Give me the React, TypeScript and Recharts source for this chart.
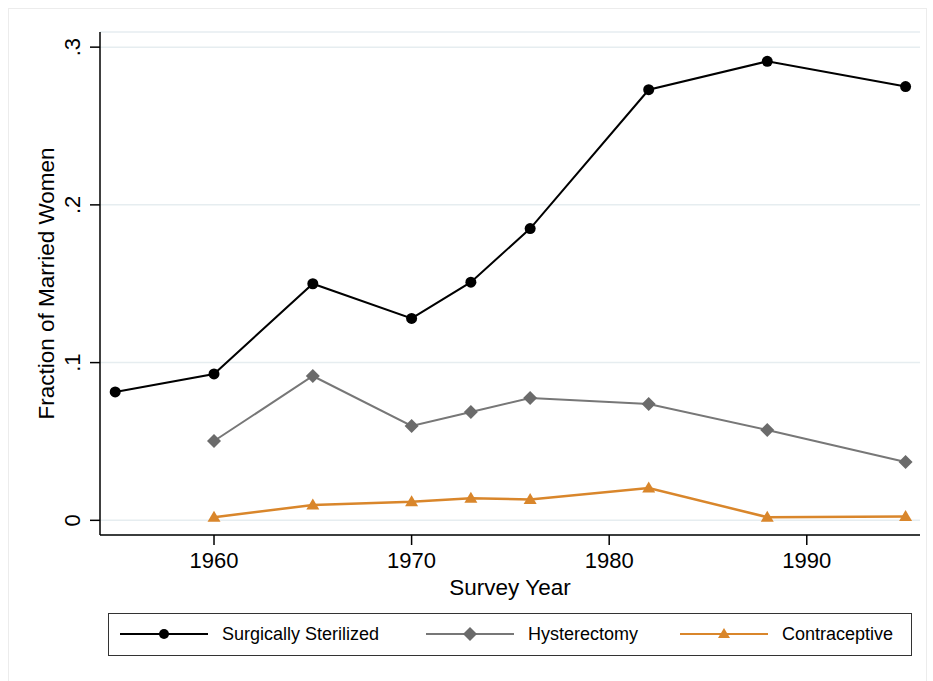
import React from "react";
import {
  LineChart,
  Line,
  XAxis,
  YAxis,
  CartesianGrid,
} from "recharts";

const years = [1955, 1960, 1965, 1970, 1973, 1976, 1982, 1988, 1995];
const sterilized = [0.0814, 0.0928, 0.150, 0.128, 0.151, 0.185, 0.273, 0.291, 0.275];
const hysterectomy = [null, 0.0503, 0.0915, 0.0598, 0.0687, 0.0776, 0.0738, 0.0573, 0.037];
const contraceptive = [null, 0.002, 0.0097, 0.0118, 0.014, 0.0132, 0.0205, 0.002, 0.0025];

const xTicks = [1960, 1970, 1980, 1990];
const yTicks = [0, 0.1, 0.2, 0.3];
const yTickLabels = ["0", ".1", ".2", ".3"];

const data = years.map((year, i) => ({
  year,
  sterilized: sterilized[i],
  hysterectomy: hysterectomy[i],
  contraceptive: contraceptive[i],
}));

const FONT = "'Liberation Sans', Arial, Helvetica, sans-serif";
const BLACK = "#000000";
const GRAY_LINE = "#777777";
const GRAY_MARK = "#6b6b6b";
const ORANGE = "#d9862b";

const CircleDot = (props: any) => {
  const { cx, cy, value } = props;
  if (value == null || cx == null || cy == null) return null;
  return <circle cx={cx} cy={cy} r={5.5} fill={BLACK} />;
};

const DiamondDot = (props: any) => {
  const { cx, cy, value } = props;
  if (value == null || cx == null || cy == null) return null;
  const s = 7;
  return (
    <path
      d={`M${cx},${cy - s}L${cx + s},${cy}L${cx},${cy + s}L${cx - s},${cy}Z`}
      fill={GRAY_MARK}
    />
  );
};

const TriangleDot = (props: any) => {
  const { cx, cy, value } = props;
  if (value == null || cx == null || cy == null) return null;
  return (
    <path
      d={`M${cx},${cy - 6.5}L${cx + 6.5},${cy + 4.5}L${cx - 6.5},${cy + 4.5}Z`}
      fill={ORANGE}
    />
  );
};

const XTick = (props: any) => {
  const { x, y, payload } = props;
  return (
    <text
      x={x}
      y={y + 13}
      textAnchor="middle"
      dominantBaseline="central"
      fontFamily={FONT}
      fontSize={22}
      fill="#000"
    >
      {payload.value}
    </text>
  );
};

const YTick = (props: any) => {
  const { x, y, payload } = props;
  const idx = yTicks.indexOf(payload.value);
  const bx = x - 8;
  return (
    <text
      x={bx}
      y={y}
      transform={`rotate(-90, ${bx}, ${y})`}
      textAnchor="middle"
      fontFamily={FONT}
      fontSize={22}
      fill="#000"
    >
      {idx >= 0 ? yTickLabels[idx] : payload.value}
    </text>
  );
};

const legendItems = [
  { label: "Surgically Sterilized", color: BLACK, marker: "circle", left: 11 },
  { label: "Hysterectomy", color: GRAY_LINE, marker: "diamond", left: 317 },
  { label: "Contraceptive", color: ORANGE, marker: "triangle", left: 571 },
];

const LegendBox = () => (
  <div
    style={{
      position: "absolute",
      left: 108,
      top: 613,
      width: 804,
      height: 43,
      border: "1.5px solid #333",
      boxSizing: "border-box",
      background: "#fff",
    }}
  >
    {legendItems.map((it) => (
      <div
        key={it.label}
        style={{
          position: "absolute",
          left: it.left,
          top: 0,
          height: 40,
          display: "flex",
          alignItems: "center",
        }}
      >
        <svg width={88} height={20} style={{ display: "block" }}>
          <line x1={0} y1={10} x2={88} y2={10} stroke={it.color} strokeWidth={2} />
          {it.marker === "circle" && <circle cx={44} cy={10} r={5} fill={BLACK} />}
          {it.marker === "diamond" && (
            <path d="M44,3L51,10L44,17L37,10Z" fill={GRAY_MARK} />
          )}
          {it.marker === "triangle" && (
            <path d="M44,4L50,14L38,14Z" fill={ORANGE} />
          )}
        </svg>
        <span
          style={{
            marginLeft: 14,
            fontFamily: FONT,
            fontSize: 18,
            color: "#000",
            whiteSpace: "nowrap",
          }}
        >
          {it.label}
        </span>
      </div>
    ))}
  </div>
);

export default function App() {
  return (
    <div
      style={{
        position: "fixed",
        left: 0,
        top: 0,
        width: 933,
        height: 681,
        background: "#fff",
      }}
    >
      <div
        style={{
          position: "absolute",
          left: 8,
          top: 8,
          width: 917,
          height: 680,
          borderLeft: "1px solid #ececec",
          borderTop: "1px solid #ececec",
          borderRight: "1px solid #ececec",
        }}
      />
      <LineChart
        width={933}
        height={681}
        data={data}
        margin={{ top: 32, right: 13, bottom: 0, left: 0 }}
        style={{ position: "absolute", left: 0, top: 0 }}
      >
        <CartesianGrid vertical={false} stroke="#e6edf0" strokeWidth={1.5} />
        <XAxis
          dataKey="year"
          type="number"
          domain={[1954.23, 1995.73]}
          ticks={xTicks}
          allowDataOverflow
          axisLine={{ stroke: "#000", strokeWidth: 1.5 }}
          tickLine={{ stroke: "#000", strokeWidth: 1.5 }}
          tickSize={10}
          tick={<XTick />}
          height={146}
          label={{
            value: "Survey Year",
            position: "insideTop",
            offset: 44,
            fontFamily: FONT,
            fontSize: 22.5,
            fill: "#000",
          }}
        />
        <YAxis
          type="number"
          domain={[-0.0093, 0.3096]}
          ticks={yTicks}
          allowDataOverflow
          width={100}
          axisLine={{ stroke: "#000", strokeWidth: 1.5 }}
          tickLine={{ stroke: "#000", strokeWidth: 1.5 }}
          tickSize={10}
          tick={<YTick />}
          label={{
            value: "Fraction of Married Women",
            angle: -90,
            position: "insideLeft",
            offset: 46,
            fontFamily: FONT,
            fontSize: 22.5,
            fill: "#000",
            style: { textAnchor: "middle" },
          }}
        />
        <Line
          dataKey="sterilized"
          stroke={BLACK}
          strokeWidth={2}
          dot={<CircleDot />}
          activeDot={false}
          isAnimationActive={false}
        />
        <Line
          dataKey="hysterectomy"
          stroke={GRAY_LINE}
          strokeWidth={2}
          dot={<DiamondDot />}
          activeDot={false}
          connectNulls={false}
          isAnimationActive={false}
        />
        <Line
          dataKey="contraceptive"
          stroke={ORANGE}
          strokeWidth={2.5}
          dot={<TriangleDot />}
          activeDot={false}
          connectNulls={false}
          isAnimationActive={false}
        />
      </LineChart>
      <LegendBox />
    </div>
  );
}
